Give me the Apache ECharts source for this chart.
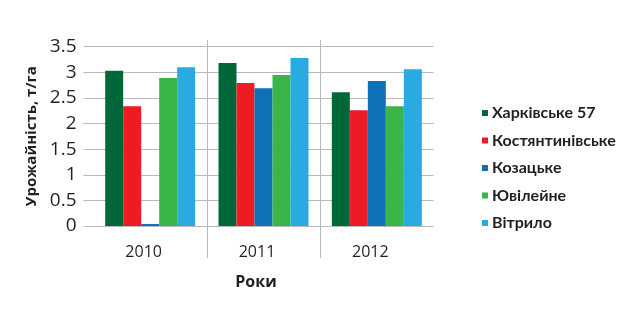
<!DOCTYPE html>
<html>
<head>
<meta charset="utf-8">
<script src="https://cdn.jsdelivr.net/npm/echarts@6/dist/echarts.min.js"></script>
<style>
  html, body { margin: 0; padding: 0; background: #fff; }
  #chart { width: 641px; height: 333px; }
</style>
</head>
<body>
<div id="chart"></div>
<script>
// Yield of winter wheat varieties by year, t/ha
const years = ['2010', '2011', '2012'];
const varieties = ['Харківське 57', 'Костянтинівське', 'Козацьке', 'Ювілейне', 'Вітрило'];
const kharkivske57 = [3.03, 3.18, 2.61];
const kostiantynivske = [2.34, 2.79, 2.26];
const kozatske = [0.04, 2.69, 2.83];
const yuvileine = [2.89, 2.95, 2.34];
const vitrylo = [3.10, 3.28, 3.06];
const yTicks = { min: 0, max: 3.5, interval: 0.5 };

const colors = ['#006838', '#ED1C24', '#0F71B8', '#39B54A', '#29AAE1'];
const seriesValues = [kharkivske57, kostiantynivske, kozatske, yuvileine, vitrylo];

const font = '"Open Sans", "DejaVu Sans", sans-serif';
const legendFont = 'Lato, "Open Sans", sans-serif';
const gridColor = '#b9b9b9';
const textColor = '#231f20';

const chart = echarts.init(document.getElementById('chart'), null, { renderer: 'canvas' });

chart.setOption({
  animation: false,
  backgroundColor: '#ffffff',
  legend: {
    orient: 'vertical',
    left: 477,
    top: 100,
    icon: 'rect',
    itemWidth: 6,
    itemHeight: 6,
    itemGap: 11.5,
    textStyle: { fontFamily: legendFont, fontSize: 16, fontWeight: 'bold', color: textColor, padding: [0, 0, 0, -1] },
    data: varieties
  },
  grid: [
    { left: 93.5, right: 207.5, top: 46.7, bottom: 107, containLabel: false },
    { left: 93.5, right: 207.5, top: 40, bottom: 75, containLabel: false }
  ],
  xAxis: [
    {
      type: 'category',
      gridIndex: 0,
      data: years,
      axisLine: { show: false },
      axisTick: { show: false },
      splitLine: { show: false },
      axisLabel: {
        fontFamily: font, fontSize: 16, color: textColor,
        margin: 18, padding: [0, 13, 0, 0]
      },
      name: 'Роки',
      nameLocation: 'middle',
      nameGap: 48,
      nameTextStyle: {
        fontFamily: font, fontSize: 16, fontWeight: 'bold', color: textColor,
        padding: [0, 15, 0, 0]
      }
    },
    {
      // year separators spanning the plot and the label band
      type: 'value',
      gridIndex: 1,
      min: 0,
      max: years.length,
      interval: 1,
      axisLine: { show: false },
      axisTick: { show: false },
      axisLabel: { show: false },
      splitLine: {
        show: true,
        showMinLine: false,
        showMaxLine: false,
        lineStyle: { color: gridColor, width: 1 }
      }
    }
  ],
  yAxis: [
    {
      type: 'value',
      gridIndex: 0,
      min: yTicks.min,
      max: yTicks.max,
      interval: yTicks.interval,
      axisLine: { show: false },
      axisTick: { show: true, length: 10, lineStyle: { color: gridColor } },
      splitLine: { show: true, lineStyle: { color: gridColor, width: 1 } },
      axisLabel: {
        fontFamily: font, fontSize: 19, color: textColor, margin: 17
      },
      name: 'Урожайність, т/га',
      nameLocation: 'middle',
      nameRotate: 90,
      nameGap: 52,
      nameTextStyle: { fontFamily: font, fontSize: 15, fontWeight: 'bold', color: textColor }
    },
    {
      type: 'value',
      gridIndex: 1,
      show: false
    }
  ],
  series: varieties.map((name, i) => ({
    name: name,
    type: 'bar',
    xAxisIndex: 0,
    yAxisIndex: 0,
    data: seriesValues[i],
    barGap: '0%',
    barCategoryGap: '20.6%',
    itemStyle: { color: colors[i] },
    emphasis: { disabled: true }
  }))
});
</script>
</body>
</html>
